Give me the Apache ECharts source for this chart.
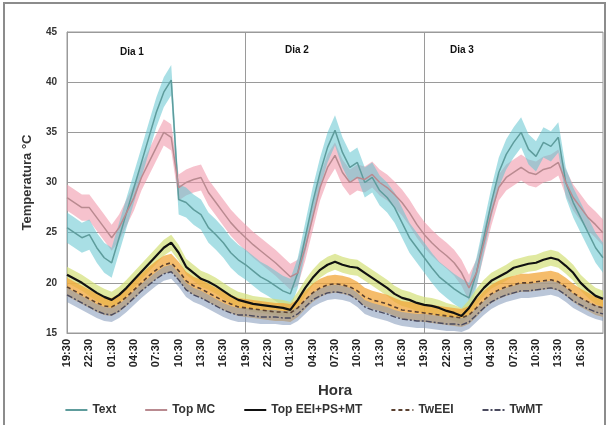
<!DOCTYPE html>
<html><head><meta charset="utf-8">
<script src="https://cdn.jsdelivr.net/npm/echarts@6/dist/echarts.min.js"></script>
<style>html,body{margin:0;padding:0;background:#fff}#c{width:607px;height:425px}</style>
</head><body><div id="c"></div>
<script>
var hours = ["19:30","20:30","21:30","22:30","23:30","00:30","01:30","02:30","03:30","04:30","05:30","06:30","07:30","08:30","09:30","10:30","11:30","12:30","13:30","14:30","15:30","16:30","17:30","18:30",
"19:30","20:30","21:30","22:30","23:30","00:30","01:30","02:30","03:30","04:30","05:30","06:30","07:30","08:30","09:30","10:30","11:30","12:30","13:30","14:30","15:30","16:30","17:30","18:30",
"19:30","20:30","21:30","22:30","23:30","00:30","01:30","02:30","03:30","04:30","05:30","06:30","07:30","08:30","09:30","10:30","11:30","12:30","13:30","14:30","15:30","16:30","17:30","18:30","19:30"];
var yTicks = [15,20,25,30,35,40,45];
var dayLabels = ["Dia 1","Dia 2","Dia 3"];

var text = [25.5,25,24.5,24.8,23.5,22.5,22,24.5,27,29.5,32,34.5,37,39,40.2,28.3,28,27.3,26.8,25.5,24.8,24,23,22.3,21.8,21.2,20.6,20.2,19.7,19.2,18.9,21,24.5,28,31,33.5,35.2,33,31.5,32,30,30.5,29.2,28.5,27.5,26,24.5,23.5,22.5,21.5,20.6,20,19.4,18.9,18.5,21,24.5,28,31,32.8,34,35,33.3,32.6,34,33.6,34.5,30,28,26.5,25,23.5,22.5];
var topMC = [28.5,28,27.5,27.5,26.5,25.5,24.5,25.5,27,28.5,30.5,32,33.5,35,34.5,29.5,30,30.3,30.5,29,28,27,26,25.2,24.5,23.8,23.2,22.6,22,21.3,20.6,21,23.5,26.5,29.5,31.5,32.7,31,30,30.5,30.3,30.8,30,29.5,28.8,28,27,25.8,24.8,24,23.3,22.7,22,21,19.5,21,24,27,29.5,30.5,31,31.5,31,30.8,31.3,31.5,32,30,28.5,27.5,26.5,25.8,25];
var topEEI = [20.8,20.4,20,19.5,19,18.6,18.3,18.8,19.5,20.3,21.1,21.9,22.7,23.5,24,23,21.6,21,20.4,20.1,19.7,19.2,18.7,18.3,18.1,17.9,17.8,17.7,17.6,17.5,17.3,18.3,19.5,20.5,21.3,21.8,22.1,21.8,21.6,21.5,21,20.5,20,19.5,18.9,18.5,18.3,18,17.8,17.7,17.5,17.2,17,16.7,17.5,18.6,19.5,20.2,20.6,21,21.5,21.7,21.9,22,22.3,22.5,22.3,21.7,21,20,19.3,18.7,18.4];
var twEEI = [19.6,19.2,18.8,18.4,18,17.7,17.6,18,18.6,19.3,20,20.7,21.3,21.8,22,21.2,20.2,19.7,19.4,19,18.6,18.2,17.9,17.6,17.5,17.4,17.3,17.2,17.1,17.1,17,17.5,18.3,19,19.5,19.8,19.9,19.8,19.6,19.2,18.6,18.3,18.1,17.9,17.6,17.3,17.2,17.1,17,16.9,16.8,16.7,16.6,16.5,16.8,17.5,18.3,18.9,19.3,19.6,19.8,20,20,20.1,20.2,20.3,20.1,19.6,19,18.5,18.1,17.7,17.5];
var twMT = [18.8,18.4,18,17.6,17.2,16.9,16.8,17.2,17.8,18.5,19.2,19.8,20.4,20.9,21.1,20.3,19.3,18.8,18.5,18.1,17.7,17.3,17,16.8,16.8,16.7,16.6,16.6,16.6,16.5,16.5,16.9,17.6,18.3,18.7,19,19.1,19,18.8,18.3,17.6,17.3,17.1,16.9,16.6,16.4,16.3,16.2,16.2,16.1,16,15.9,15.9,15.8,16.1,16.8,17.5,18.1,18.5,18.8,19,19.2,19.2,19.3,19.4,19.5,19.3,18.8,18.2,17.8,17.4,17.1,16.9];
var errText = 1.5, errMC = 1.3, errEEI = 0.8, errTwEEI = 0.9, errTwMT = 0.7;

function band(name, vals, err, color, opacity) {
  return [
    {name: name + '_lo', type: 'line', stack: name, data: vals.map(function(v){return +(v - err).toFixed(2);}),
     symbol: 'none', lineStyle: {opacity: 0}, silent: true, z: 1},
    {name: name + '_band', type: 'line', stack: name, data: vals.map(function(){return 2 * err;}),
     symbol: 'none', lineStyle: {opacity: 0}, areaStyle: {color: color, opacity: opacity}, silent: true, z: 1}
  ];
}
function line(name, vals, color, width, type) {
  return {name: name, type: 'line', data: vals, symbol: 'none', z: 5,
    lineStyle: {color: color, width: width, type: type}, itemStyle: {color: color}};
}

var series = [].concat(
  band('bMC', topMC, errMC, '#f09aab', 0.6),
  band('bText', text, errText, '#62c5cf', 0.55),
  band('bEEI', topEEI, errEEI, '#d3df78', 0.7),
  band('bTwEEI', twEEI, errTwEEI, '#f2a53a', 0.75),
  band('bTwMT', twMT, errTwMT, '#8297b8', 0.55),
  [
    line('Text', text, '#5e9c9c', 1.5, 'solid'),
    line('Top MC', topMC, '#b98a90', 1.5, 'solid'),
    line('Top EEI+PS+MT', topEEI, '#111111', 2.2, 'solid'),
    line('TwEEI', twEEI, '#5a4030', 1.6, [4, 3]),
    line('TwMT', twMT, '#4a4a5e', 1.4, [6, 2, 2, 2])
  ]
);

var chart = echarts.init(document.getElementById('c'), null, {renderer: 'canvas'});
chart.setOption({
  animation: false,
  backgroundColor: '#fff',
  grid: {left: 67, top: 32, right: 4, bottom: 92, show: true, borderColor: '#9a9a9a', borderWidth: 1},
  legend: {
    data: ['Text', 'Top MC', 'Top EEI+PS+MT', 'TwEEI', 'TwMT'],
    bottom: 4, left: 'center', itemWidth: 22, itemHeight: 10, itemGap: 28,
    itemStyle: {opacity: 0},
    textStyle: {fontFamily: 'Liberation Sans, Arial', fontWeight: 'bold', fontSize: 12, color: '#333'}
  },
  xAxis: {
    type: 'category', data: hours, boundaryGap: false,
    name: 'Hora', nameLocation: 'middle', nameGap: 50,
    nameTextStyle: {fontFamily: 'Liberation Sans, Arial', fontWeight: 'bold', fontSize: 15, color: '#333'},
    axisLine: {show: true, lineStyle: {color: '#9a9a9a'}},
    axisTick: {show: false},
    axisLabel: {rotate: 90, fontSize: 11, fontWeight: 'bold', color: '#222', fontFamily: 'Liberation Sans, Arial', margin: 6,
      interval: function(i){ return i % 3 === 0 && i < 72; }},
    splitLine: {show: true, interval: function(i){ return i === 24 || i === 48; }, lineStyle: {color: '#9a9a9a', width: 1}}
  },
  yAxis: {
    type: 'value', min: yTicks[0], max: yTicks[yTicks.length - 1], interval: 5,
    name: 'Temperatura °C', nameLocation: 'middle', nameGap: 33,
    nameTextStyle: {fontFamily: 'Liberation Sans, Arial', fontWeight: 'bold', fontSize: 13, color: '#333'},
    axisLine: {show: true, lineStyle: {color: '#9a9a9a'}},
    axisTick: {show: false},
    axisLabel: {fontSize: 10, fontWeight: 'bold', color: '#333', fontFamily: 'Liberation Sans, Arial', margin: 10},
    splitLine: {show: true, lineStyle: {color: '#9a9a9a', width: 1}}
  },
  graphic: [
    {type: 'rect', shape: {x: 4, y: 3, width: 601, height: 440}, style: {fill: 'none', stroke: '#8c8c8c', lineWidth: 2}, silent: true, z: 100},
    {type: 'text', left: 120, top: 47, style: {text: dayLabels[0], font: 'bold 10px Liberation Sans, Arial', fill: '#111'}},
    {type: 'text', left: 285, top: 45, style: {text: dayLabels[1], font: 'bold 10px Liberation Sans, Arial', fill: '#111'}},
    {type: 'text', left: 450, top: 45, style: {text: dayLabels[2], font: 'bold 10px Liberation Sans, Arial', fill: '#111'}}
  ],
  series: series
});
</script></body></html>
